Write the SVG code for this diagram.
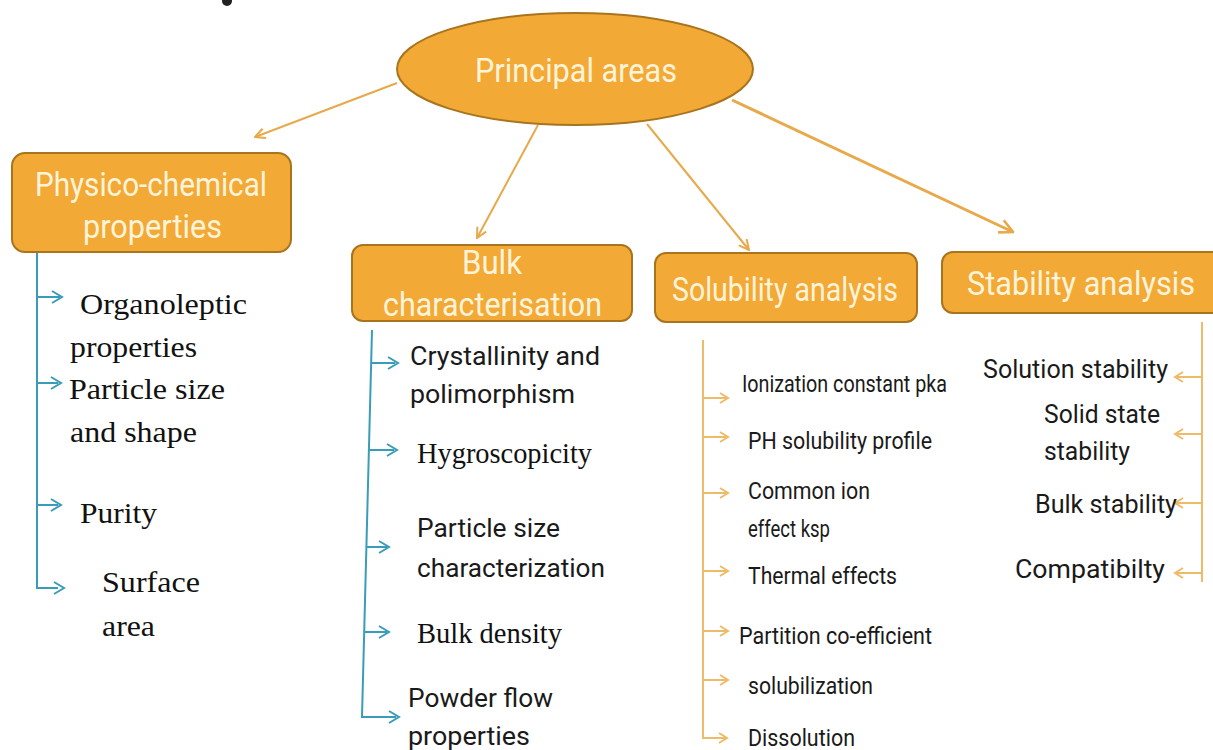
<svg xmlns="http://www.w3.org/2000/svg" width="1213" height="750" viewBox="0 0 1213 750">
<style>
.box{fill:#F2A935;stroke:#A8741E;stroke-width:2}
.ht{font-family:Roboto,"Liberation Sans",sans-serif;font-size:33px;fill:#FFF4DA}
.ser{font-family:"Liberation Serif",serif;font-size:30px;fill:#111}
.sans{font-family:Roboto,"Liberation Sans",sans-serif;font-size:25px;fill:#1a1a1a}
.cond{font-family:Roboto,"Liberation Sans",sans-serif;font-size:24px;fill:#1a1a1a}
.con{stroke:#E7A94A;stroke-width:2;fill:none}
.teal{stroke:#3A9CB8;stroke-width:2;fill:none}
.org{stroke:#EDBB6A;stroke-width:2;fill:none}
</style>
<defs>
<marker id="ah" viewBox="0 0 12 12" refX="11" refY="6" markerWidth="12" markerHeight="12" markerUnits="userSpaceOnUse" orient="auto">
<path d="M1,1 L11,6 L1,11" fill="none" stroke="#E7A94A" stroke-width="2"/>
</marker>
<marker id="ah2" viewBox="0 0 12 12" refX="11" refY="6" markerWidth="16" markerHeight="16" markerUnits="userSpaceOnUse" orient="auto">
<path d="M1,1 L11,6 L1,11" fill="none" stroke="#E7A94A" stroke-width="2"/>
</marker>
</defs>
<rect width="1213" height="750" fill="#fff"/>
<ellipse cx="227" cy="1" rx="5" ry="5" fill="#222"/>

<g id="connectors">
<line class="con" x1="397" y1="83" x2="255" y2="137" marker-end="url(#ah)"/>
<line class="con" x1="538" y1="125" x2="477" y2="238" marker-end="url(#ah)"/>
<line class="con" x1="647" y1="124" x2="749" y2="250" marker-end="url(#ah)"/>
<line class="con" style="stroke-width:3" x1="732" y1="100" x2="1013" y2="232" marker-end="url(#ah2)"/>
<!-- physico list -->
<path class="teal" d="M37,252 V588 H58"/>
<path class="teal" d="M37,297 H60 M52,291 L62,297 L52,303"/>
<path class="teal" d="M37,383 H58 M51,377 L61,383 L51,389"/>
<path class="teal" d="M37,505 H58 M51,499 L61,505 L51,511"/>
<path class="teal" d="M54,582 L64,588 L54,594"/>
<!-- bulk list -->
<path class="teal" d="M372,330 L362,717 H396"/>
<path class="teal" d="M371,363 H395 M388,357 L398,363 L388,369"/>
<path class="teal" d="M369,450 H394 M387,444 L397,450 L387,456"/>
<path class="teal" d="M367,547 H387 M379,541 L389,547 L379,553"/>
<path class="teal" d="M365,632 H387 M379,626 L389,632 L379,638"/>
<path class="teal" d="M389,711 L399,717 L389,723"/>
<!-- solubility list -->
<path class="org" d="M703,340 V738 H726"/>
<path class="org" d="M703,398 H727 M720,393 L728,398 L720,403"/>
<path class="org" d="M703,437 H727 M720,432 L728,437 L720,442"/>
<path class="org" d="M703,493 H727 M720,488 L728,493 L720,498"/>
<path class="org" d="M703,571 H727 M720,566 L728,571 L720,576"/>
<path class="org" d="M703,631 H727 M720,626 L728,631 L720,636"/>
<path class="org" d="M703,680 H727 M720,675 L728,680 L720,685"/>
<path class="org" d="M719,733 L727,738 L719,743"/>
<!-- stability list -->
<path class="org" d="M1202,322 V582"/>
<path class="org" d="M1202,377 H1176 M1183,372 L1175,377 L1183,382"/>
<path class="org" d="M1202,434 H1176 M1183,429 L1175,434 L1183,439"/>
<path class="org" d="M1202,503 H1176 M1183,498 L1175,503 L1183,508"/>
<path class="org" d="M1202,573 H1176 M1183,568 L1175,573 L1183,578"/>
</g>

<g id="principal">
<ellipse class="box" cx="575" cy="69" rx="178" ry="56"/>
<text class="ht" x="475" y="82" textLength="202" lengthAdjust="spacingAndGlyphs">Principal areas</text>
</g>

<g id="physico">
<rect class="box" x="12" y="153" width="279" height="99" rx="13"/>
<text class="ht" x="35" y="196" textLength="232" lengthAdjust="spacingAndGlyphs">Physico-chemical</text>
<text class="ht" x="83" y="238" textLength="139" lengthAdjust="spacingAndGlyphs">properties</text>
</g>

<g id="bulk">
<rect class="box" x="352" y="245" width="280" height="76" rx="11"/>
<text class="ht" x="462" y="274" textLength="60" lengthAdjust="spacingAndGlyphs">Bulk</text>
<text class="ht" x="383" y="316" textLength="219" lengthAdjust="spacingAndGlyphs">characterisation</text>
</g>

<g id="solubility">
<rect class="box" x="655" y="253" width="262" height="69" rx="11"/>
<text class="ht" x="672" y="301" textLength="226" lengthAdjust="spacingAndGlyphs">Solubility analysis</text>
</g>

<g id="stability">
<rect class="box" x="942" y="252" width="285" height="61" rx="11"/>
<text class="ht" x="967" y="295" textLength="228" lengthAdjust="spacingAndGlyphs">Stability analysis</text>
</g>

<g id="physico-items">
<text class="ser" x="80" y="314" textLength="167" lengthAdjust="spacingAndGlyphs">Organoleptic</text>
<text class="ser" x="70" y="357" textLength="127" lengthAdjust="spacingAndGlyphs">properties</text>
<text class="ser" x="69" y="399" textLength="156" lengthAdjust="spacingAndGlyphs">Particle size</text>
<text class="ser" x="70" y="442" textLength="127" lengthAdjust="spacingAndGlyphs">and shape</text>
<text class="ser" x="80" y="523" textLength="77" lengthAdjust="spacingAndGlyphs">Purity</text>
<text class="ser" x="102" y="592" textLength="98" lengthAdjust="spacingAndGlyphs">Surface</text>
<text class="ser" x="102" y="636" textLength="53" lengthAdjust="spacingAndGlyphs">area</text>
</g>

<g id="bulk-items">
<text class="sans" x="410" y="365" textLength="190" lengthAdjust="spacingAndGlyphs">Crystallinity and</text>
<text class="sans" x="410" y="403" textLength="165" lengthAdjust="spacingAndGlyphs">polimorphism</text>
<text class="ser" x="417" y="463" textLength="175" lengthAdjust="spacingAndGlyphs">Hygroscopicity</text>
<text class="sans" x="417" y="537" textLength="143" lengthAdjust="spacingAndGlyphs">Particle size</text>
<text class="sans" x="417" y="577" textLength="188" lengthAdjust="spacingAndGlyphs">characterization</text>
<text class="ser" x="417" y="643" textLength="145" lengthAdjust="spacingAndGlyphs">Bulk density</text>
<text class="sans" x="408" y="707" textLength="145" lengthAdjust="spacingAndGlyphs">Powder flow</text>
<text class="sans" x="408" y="745" textLength="122" lengthAdjust="spacingAndGlyphs">properties</text>
</g>

<g id="solubility-items">
<text class="cond" x="742" y="392" textLength="205" lengthAdjust="spacingAndGlyphs">Ionization constant pka</text>
<text class="cond" x="748" y="449" textLength="184" lengthAdjust="spacingAndGlyphs">PH solubility profile</text>
<text class="cond" x="748" y="499" textLength="122" lengthAdjust="spacingAndGlyphs">Common ion</text>
<text class="cond" x="748" y="537" textLength="82" lengthAdjust="spacingAndGlyphs">effect ksp</text>
<text class="cond" x="748" y="584" textLength="149" lengthAdjust="spacingAndGlyphs">Thermal effects</text>
<text class="cond" x="739" y="644" textLength="193" lengthAdjust="spacingAndGlyphs">Partition co-efficient</text>
<text class="cond" x="748" y="694" textLength="125" lengthAdjust="spacingAndGlyphs">solubilization</text>
<text class="cond" x="748" y="746" textLength="107" lengthAdjust="spacingAndGlyphs">Dissolution</text>
</g>

<g id="stability-items">
<text class="sans" x="983" y="378" textLength="185" lengthAdjust="spacingAndGlyphs">Solution stability</text>
<text class="sans" x="1044" y="423" textLength="116" lengthAdjust="spacingAndGlyphs">Solid state</text>
<text class="sans" x="1044" y="460" textLength="86" lengthAdjust="spacingAndGlyphs">stability</text>
<text class="sans" x="1035" y="513" textLength="142" lengthAdjust="spacingAndGlyphs">Bulk stability</text>
<text class="sans" x="1015" y="578" textLength="150" lengthAdjust="spacingAndGlyphs">Compatibilty</text>
</g>
</svg>
